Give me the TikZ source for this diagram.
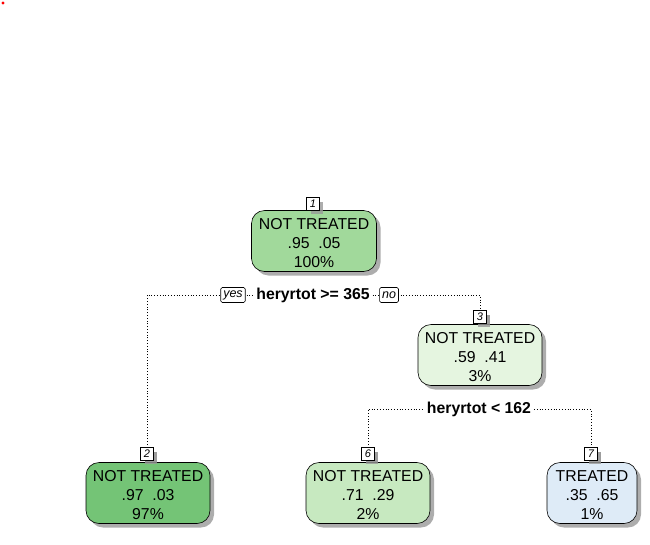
\documentclass[tikz,border=0pt]{standalone}
\usepackage{fontspec}
\setmainfont{Liberation Sans}
\usetikzlibrary{shadows}
\definecolor{cA}{HTML}{A1D99B}
\definecolor{cB}{HTML}{74C476}
\definecolor{cC}{HTML}{E5F5E0}
\definecolor{cD}{HTML}{C7E9C0}
\definecolor{cE}{HTML}{DEEBF7}
\tikzset{
  shad/.style={drop shadow={shadow xshift=4pt,shadow yshift=-4pt,fill=black!40,opacity=0.8}},
  leaf/.style={draw=black,line width=0.6pt,rounded corners=13pt,shad,minimum height=61pt,
    inner sep=0pt},
  txt/.style={align=center,inner sep=0pt,font=\fontsize{15.8}{19}\selectfont},
  numbox/.style={draw=black,fill=white,line width=0.6pt,shad,inner sep=1.5pt,minimum width=12.5pt,
    minimum height=12.5pt,font=\fontsize{11}{12}\itshape\selectfont},
  tagbox/.style={draw=black,fill=white,line width=0.6pt,rounded corners=1.5pt,inner xsep=2.5pt,inner ysep=1.5pt,
    minimum height=15pt,font=\fontsize{12.5}{13}\itshape\selectfont},
  splitlab/.style={fill=white,inner sep=1.5pt,font=\fontsize{15.8}{17}\bfseries\selectfont},
  conn/.style={dotted,line width=0.8pt}
}
\begin{document}
\begin{tikzpicture}[x=1pt,y=-1pt]
\useasboundingbox (0,0) rectangle (650,544);
\fill[red] (3,3) circle (1.6);
% connectors first
\coordinate (s1) at (313,295);
\coordinate (s2) at (479,409);
\node[numbox] (k2) at (147,454) {2};
\node[numbox] (k3) at (480,317) {3};
\node[numbox] (k6) at (368,454) {6};
\node[numbox] (k7) at (591,454) {7};
\draw[conn] (k2.north) -- (k2.north |- s1) -- (k3.north |- s1) -- (k3.north);
\draw[conn] (k6.north) -- (k6.north |- s2) -- (k7.north |- s2) -- (k7.north);
% nodes
\node[leaf,fill=cA,minimum width=125pt] (n1) at (314,241) {};
\node[txt] (t1) at ([yshift=-2.5pt]n1.center) {NOT TREATED\\.95\ \ .05\\100\%};
\node[numbox] (k1) at (313,204) {1};
\node[leaf,fill=cC,minimum width=124pt] (n3) at (480,355) {};
\node[txt] (t3) at ([yshift=-2.5pt]n3.center) {NOT TREATED\\.59\ \ .41\\3\%};
\node[leaf,fill=cB,minimum width=124pt] (n2) at (148,493) {};
\node[txt] (t2) at ([yshift=-2.5pt]n2.center) {NOT TREATED\\.97\ \ .03\\97\%};
\node[leaf,fill=cD,minimum width=124pt] (n6) at (368,493) {};
\node[txt] (t6) at ([yshift=-2.5pt]n6.center) {NOT TREATED\\.71\ \ .29\\2\%};
\node[leaf,fill=cE,minimum width=90pt] (n7) at (592,493) {};
\node[txt] (t7) at ([yshift=-2.5pt]n7.center) {TREATED\\.35\ \ .65\\1\%};
% numbox redraw on top
\node[numbox] at (k2) {2};
\node[numbox] at (k3) {3};
\node[numbox] at (k6) {6};
\node[numbox] at (k7) {7};
% split labels
\node[splitlab] (l1) at (s1) {heryrtot >= 365};
\node[tagbox] (yes) at (233,295) {yes};
\node[tagbox] (no) at (389,295) {no};
\node[splitlab] (l2) at (s2) {heryrtot < 162};
\end{tikzpicture}
\end{document}
